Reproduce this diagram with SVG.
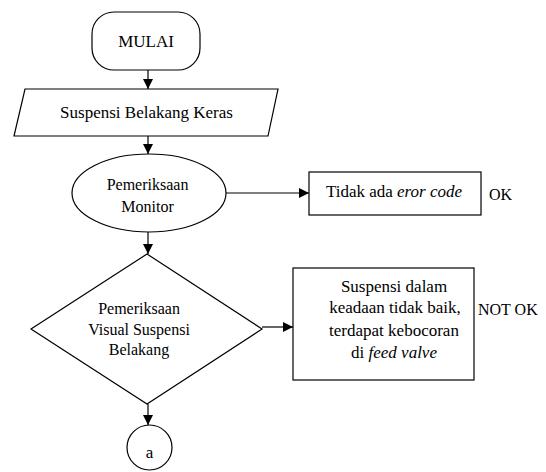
<svg xmlns="http://www.w3.org/2000/svg" width="546" height="472" viewBox="0 0 546 472">
<style>
.s{fill:#fff;stroke:#000;stroke-width:1.2}
.c{fill:none;stroke:#000;stroke-width:1.2}
text{font-family:"Liberation Serif","Times New Roman",serif;fill:#000;text-anchor:middle}
.t17{font-size:17px}
.t16{font-size:16px}
.l{text-anchor:start}
</style>
<defs>
<marker id="ah" viewBox="0 0 10 10" refX="10" refY="5" markerWidth="10" markerHeight="10" markerUnits="userSpaceOnUse" orient="auto">
<path d="M0,0 L10,5 L0,10 Z" fill="#000"/>
</marker>
</defs>
<rect width="546" height="472" fill="#fff"/>
<g id="connectors">
<line class="c" x1="148" y1="70" x2="148" y2="89" marker-end="url(#ah)"/>
<line class="c" x1="148" y1="136" x2="148" y2="154" marker-end="url(#ah)"/>
<line class="c" x1="226" y1="193" x2="309" y2="193" marker-end="url(#ah)"/>
<line class="c" x1="148" y1="232" x2="148" y2="254" marker-end="url(#ah)"/>
<line class="c" x1="262" y1="327" x2="293" y2="327" marker-end="url(#ah)"/>
<line class="c" x1="148" y1="404" x2="148" y2="425" marker-end="url(#ah)"/>
</g>
<g id="mulai">
<rect class="s" x="92" y="12" width="108" height="58" rx="22" ry="22"/>
<text class="t17" x="146" y="47">MULAI</text>
</g>
<g id="suspensi-keras">
<polygon class="s" points="25,89 278,89 268,136 14,136"/>
<text class="t17" x="146.5" y="118">Suspensi Belakang Keras</text>
</g>
<g id="pemeriksaan-monitor">
<ellipse class="s" cx="149" cy="193" rx="77" ry="39"/>
<text class="t16" x="147.5" y="190">Pemeriksaan</text>
<text class="t16" x="147.5" y="212">Monitor</text>
</g>
<g id="tidak-ada-eror">
<rect class="s" x="309" y="172" width="172" height="43"/>
<text class="t17" x="394" y="197">Tidak ada <tspan font-style="italic">eror code</tspan></text>
</g>
<g id="label-ok">
<text class="t16 l" x="489" y="200">OK</text>
</g>
<g id="pemeriksaan-visual">
<polygon class="s" points="147,254 262,329 147,404 31,329"/>
<text class="t16" x="139" y="314">Pemeriksaan</text>
<text class="t16" x="139" y="335">Visual Suspensi</text>
<text class="t16" x="139" y="355">Belakang</text>
</g>
<g id="suspensi-tidak-baik">
<rect class="s" x="293" y="268" width="181" height="112"/>
<text class="t17" x="394" y="292">Suspensi dalam</text>
<text class="t17" x="395" y="313">keadaan tidak baik,</text>
<text class="t17" x="394" y="336">terdapat kebocoran</text>
<text class="t17" x="394" y="358">di <tspan font-style="italic">feed valve</tspan></text>
</g>
<g id="label-not-ok">
<text class="t16 l" x="478" y="315">NOT OK</text>
</g>
<g id="a">
<circle class="s" cx="149.5" cy="447.5" r="22.5"/>
<text class="t17" x="149.5" y="458">a</text>
</g>
</svg>
